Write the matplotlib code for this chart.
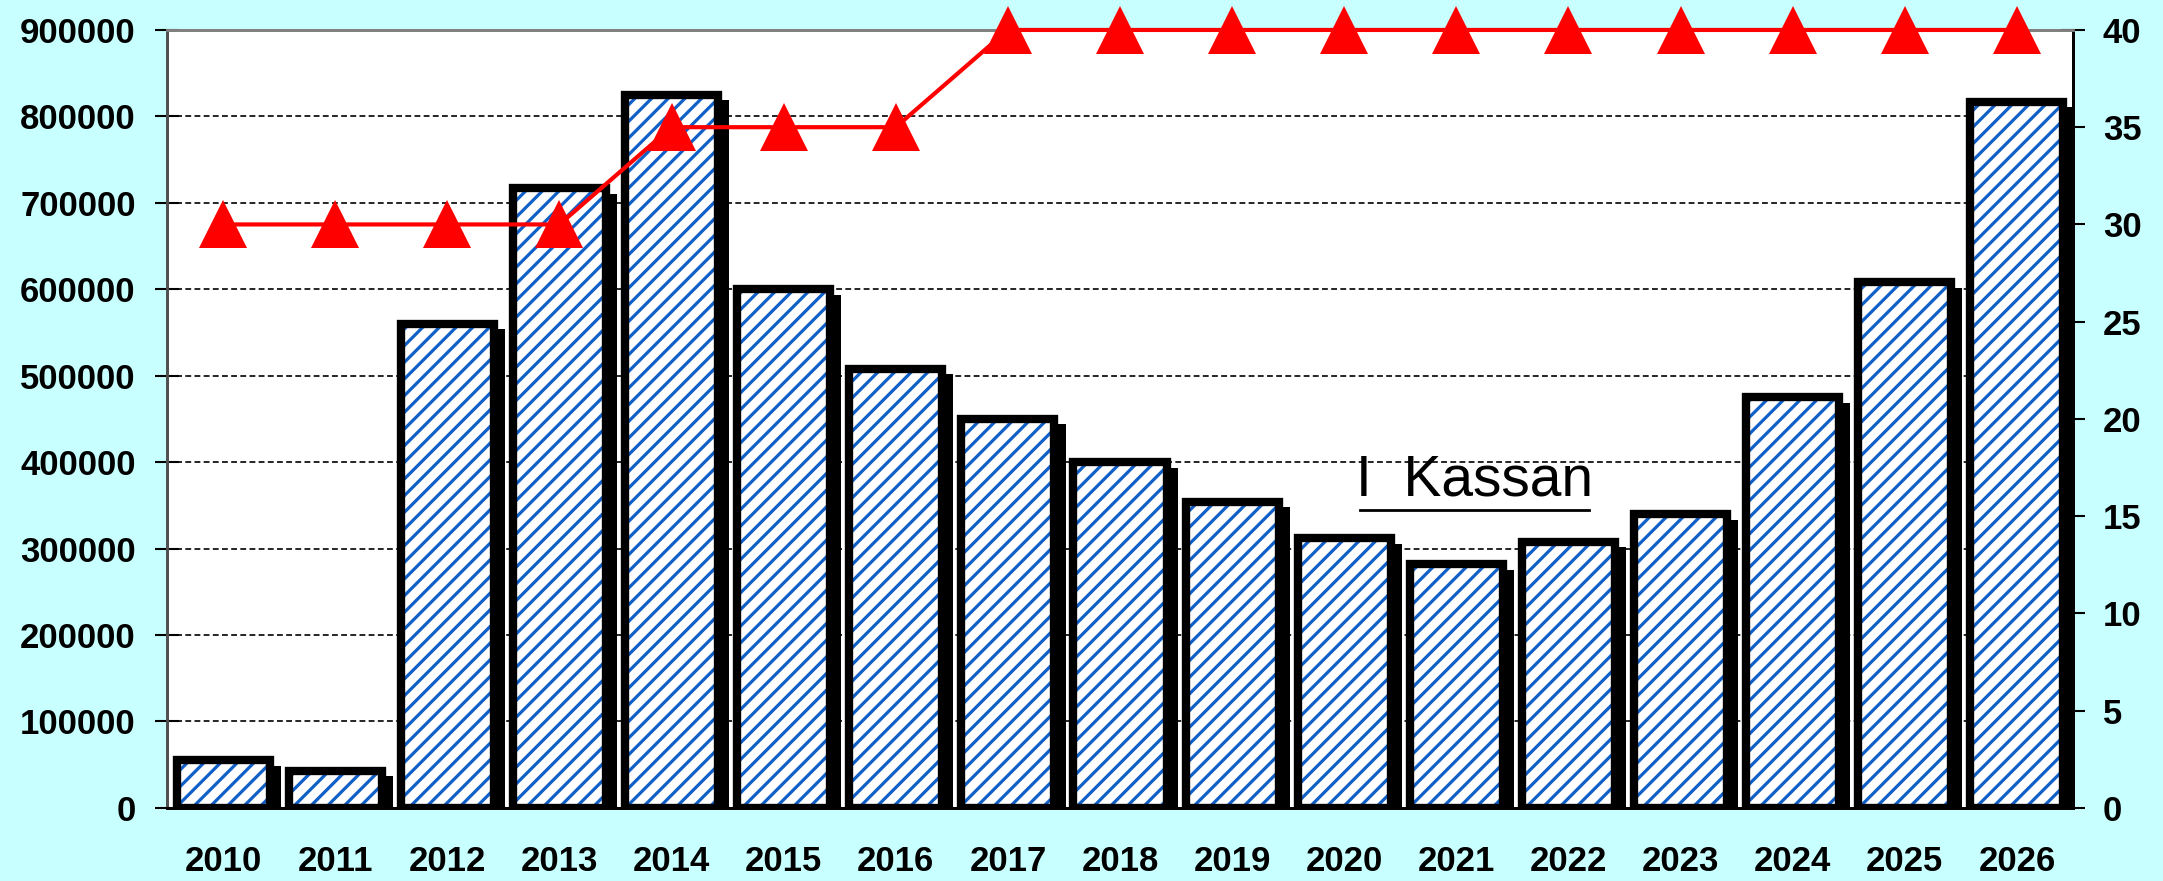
import matplotlib
matplotlib.use("Agg")
import matplotlib.pyplot as plt
import matplotlib.patheffects as pe
import numpy as np

years = ["2010", "2011", "2012", "2013", "2014", "2015", "2016", "2017", "2018",
         "2019", "2020", "2021", "2022", "2023", "2024", "2025", "2026"]
bar_values = [55000, 43000, 560000, 717000, 825000, 600000, 508000, 450000, 400000,
              354000, 312000, 282000, 308000, 340000, 475000, 608000, 817000]
line_values = [30, 30, 30, 30, 35, 35, 35, 40, 40, 40, 40, 40, 40, 40, 40, 40, 40]
left_ticks = [0, 100000, 200000, 300000, 400000, 500000, 600000, 700000, 800000, 900000]
right_ticks = [0, 5, 10, 15, 20, 25, 30, 35, 40]

plt.rcParams['font.family'] = ['Liberation Sans', 'DejaVu Sans']
plt.rcParams['hatch.linewidth'] = 2.3

fig = plt.figure(figsize=(21.63, 8.81), dpi=100, facecolor='#c8ffff')
ax = fig.add_axes([0.0772, 0.083, 0.8812, 0.883])
ax.set_facecolor('white')
x = np.arange(len(years))

# shadow only
sb = ax.bar(x, bar_values, width=0.83, color='black', linewidth=0, zorder=1.9)
for p in sb:
    p.set_path_effects([pe.SimplePatchShadow(offset=(8, -4), shadow_rgbFace='black', alpha=1.0)])
# hatched fill
ax.bar(x, bar_values, width=0.83, color='white', edgecolor='#1060c8',
       hatch='//', linewidth=0, zorder=2)
# thick outline
ax.bar(x, bar_values, width=0.83, facecolor='none', edgecolor='black',
       linewidth=6, zorder=2.1)

ax.set_xlim(-0.5, len(years) - 0.5)
ax.set_ylim(0, 900000)
ax.set_yticks(left_ticks)
ax.set_yticklabels([str(v) for v in left_ticks])
ax.set_xticks(x)
ax.set_xticklabels(years)
ax.set_axisbelow(True)
ax.yaxis.grid(True, color='black', linestyle=(0, (3.5, 2)), linewidth=1.2)
ax.tick_params(axis='y', direction='inout', length=17, width=1.5, pad=14,
               labelsize=25)
ax.tick_params(axis='x', length=0, pad=27, labelsize=25)
for lab in ax.get_xticklabels() + ax.get_yticklabels():
    lab.set_fontweight('bold')

ax2 = ax.twinx()
ax2.set_ylim(0, 40)
ax2.set_yticks(right_ticks)
ax2.set_yticklabels([str(v) for v in right_ticks])
ax2.plot(x, line_values, color='#ff0000', linewidth=3, marker='^',
         markersize=34, markeredgewidth=0, clip_on=False, zorder=5)
ax2.tick_params(axis='y', direction='inout', length=17, width=1.5, pad=13,
                labelsize=25)
for lab in ax2.get_yticklabels():
    lab.set_fontweight('bold')

for a in (ax, ax2):
    a.spines['left'].set_color('#505050')
    a.spines['left'].set_linewidth(2)
    a.spines['top'].set_color('#808080')
    a.spines['top'].set_linewidth(2)
    a.spines['right'].set_color('black')
    a.spines['right'].set_linewidth(2)
    a.spines['bottom'].set_color('black')
    a.spines['bottom'].set_linewidth(2)

ax.text(0.686, 0.421, "I  Kassan", transform=ax.transAxes, fontsize=41,
        ha='center', va='center', color='black', zorder=6)
ax.plot([0.626, 0.746], [0.383, 0.383], transform=ax.transAxes,
        color='black', linewidth=2, zorder=6, clip_on=False)

fig.savefig("out.png", dpi=100, facecolor=fig.get_facecolor())
